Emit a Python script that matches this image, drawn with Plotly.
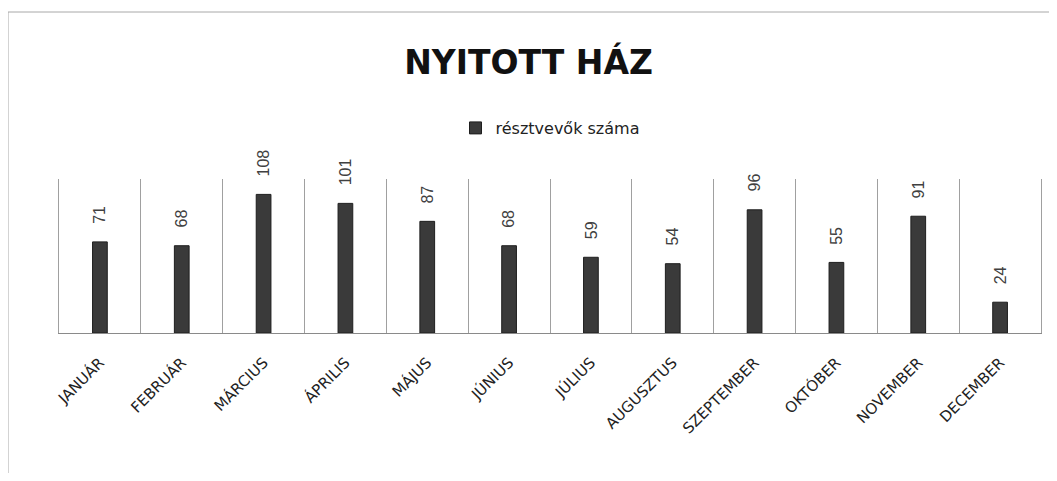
import plotly.graph_objects as go

months = ["JANUÁR", "FEBRUÁR", "MÁRCIUS", "ÁPRILIS", "MÁJUS", "JÚNIUS",
          "JÚLIUS", "AUGUSZTUS", "SZEPTEMBER", "OKTÓBER", "NOVEMBER", "DECEMBER"]
participants = [71, 68, 108, 101, 87, 68, 59, 54, 96, 55, 91, 24]
series_name = "résztvevők száma"
title_text = "NYITOTT HÁZ"

# page body has an 8px margin; figure occupies 8..1049 x 8..473
W, H = 1041, 465
L, R, T, B = 51, 8, 171, 140
PW = W - L - R
PH = H - T - B

fig = go.Figure()
fig.add_trace(go.Bar(
    x=months, y=participants, name=series_name,
    marker=dict(color="#3a3a3a", line=dict(color="#1e1e1e", width=1)),
    showlegend=True,
))

for m, v in zip(months, participants):
    fig.add_annotation(
        x=m, y=v, text=str(v), textangle=-90, showarrow=False,
        xanchor="center", yanchor="bottom", yshift=16,
        font=dict(family="Liberation Sans, Arial", size=16, color="#404040"),
    )

def px_x(p):
    return (p - 8 - L) / PW

def px_y(p):
    return (H - B - (p - 8)) / PH

fig.update_layout(
    width=W, height=H,
    margin=dict(l=L, r=R, t=T, b=B),
    paper_bgcolor="white", plot_bgcolor="white",
    bargap=0.82,
    title=dict(text=f"<b>{title_text}</b>", x=0.5, xanchor="center",
               y=1 - (62 - 8) / H, yanchor="middle",
               font=dict(family="DejaVu Sans", size=33, color="#111111")),
    legend=dict(orientation="h", x=0.5, xanchor="center", y=px_y(128), yanchor="middle",
                font=dict(family="DejaVu Sans", size=16, color="#222222"),
                itemwidth=30),
    xaxis=dict(
        type="category", tickson="boundaries", showgrid=True,
        gridcolor="#a0a0a0", gridwidth=1,
        showline=True, linecolor="#8a8a8a", linewidth=1,
        ticks="", ticklabelstandoff=14,
        tickangle=-45,
        tickfont=dict(family="DejaVu Sans", size=15, color="#222222"),
    ),
    yaxis=dict(range=[0, 120], showgrid=False, showticklabels=False,
               zeroline=False, showline=True, mirror=True,
               linecolor="#a0a0a0", linewidth=1),
    shapes=[dict(type="rect", xref="paper", yref="paper",
                 x0=px_x(8), x1=px_x(1070),
                 y0=px_y(500), y1=px_y(12),
                 line=dict(color="#a8a8a8", width=1), fillcolor="rgba(0,0,0,0)",
                 layer="below")],
)

fig.write_html("out.html")
